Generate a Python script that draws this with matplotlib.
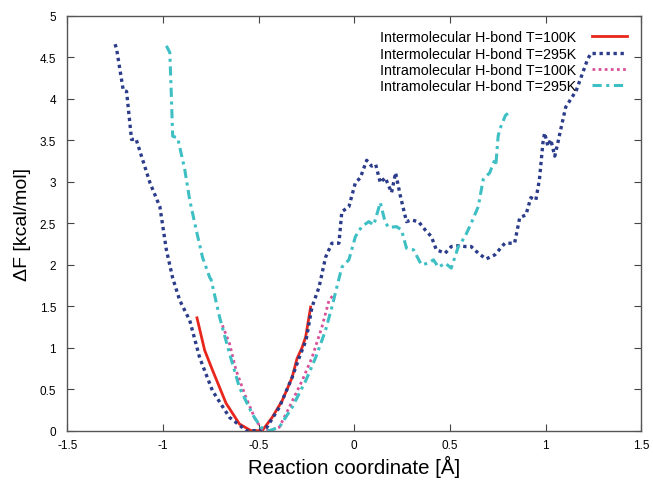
import matplotlib
matplotlib.use("Agg")
import matplotlib.pyplot as plt

plt.rcParams['font.family'] = ['Liberation Sans', 'DejaVu Sans']

# Intermolecular H-bond T=100K
inter100_x = [-0.822, -0.782, -0.741, -0.670, -0.600, -0.540, -0.481, -0.429, -0.377, -0.325, -0.299, -0.273, -0.254, -0.228]
inter100_y = [1.36, 0.97, 0.73, 0.33, 0.08, 0.0, 0.0, 0.16, 0.36, 0.64, 0.87, 1.00, 1.13, 1.49]

# Intermolecular H-bond T=295K
inter295_x = [-1.250, -1.242, -1.207, -1.190, -1.164, -1.141, -1.068, -1.016, -0.982, -0.949,
              -0.912, -0.860, -0.808, -0.741, -0.652, -0.564, -0.512, -0.460, -0.392, -0.325,
              -0.288, -0.252, -0.221, -0.184, -0.150, -0.117, -0.080, -0.065, -0.028, 0.006,
              0.032, 0.065, 0.091, 0.112, 0.136, 0.162, 0.195, 0.216, 0.240, 0.273, 0.299,
              0.336, 0.371, 0.403, 0.429, 0.475, 0.507, 0.544, 0.579, 0.611, 0.648, 0.689,
              0.735, 0.787, 0.838, 0.865, 0.897, 0.923, 0.949, 0.968, 0.986, 0.995, 1.012,
              1.027, 1.048, 1.064, 1.079, 1.105, 1.160, 1.220, 1.240]
inter295_y = [4.66, 4.60, 4.10, 4.09, 3.51, 3.52, 2.99, 2.70, 2.18, 1.84,
              1.57, 1.33, 0.88, 0.48, 0.16, 0.0, 0.0, 0.03, 0.28, 0.64,
              0.88, 1.09, 1.49, 1.73, 2.09, 2.26, 2.26, 2.64, 2.70, 2.99,
              3.05, 3.26, 3.19, 3.21, 2.99, 3.05, 2.87, 3.11, 2.84, 2.52, 2.54,
              2.52, 2.42, 2.34, 2.18, 2.14, 2.22, 2.23, 2.22, 2.22, 2.14, 2.07,
              2.12, 2.26, 2.26, 2.57, 2.60, 2.81, 2.78, 3.03, 3.47, 3.59, 3.43,
              3.51, 3.31, 3.47, 3.63, 3.90, 4.10, 4.48, 4.56]

# Intramolecular H-bond T=100K
intra100_x = [-0.689, -0.652, -0.618, -0.566, -0.514, -0.481, -0.444, -0.392, -0.340, -0.273, -0.221, -0.169, -0.132, -0.112]
intra100_y = [1.27, 1.05, 0.73, 0.40, 0.12, 0.02, 0.0, 0.04, 0.28, 0.60, 0.88, 1.25, 1.57, 1.63]

# Intramolecular H-bond T=295K
intra295_x = [-0.982, -0.964, -0.956, -0.949, -0.923, -0.886, -0.860, -0.826, -0.793, -0.756,
              -0.748, -0.704, -0.652, -0.600, -0.533, -0.488, -0.444, -0.392, -0.325, -0.254,
              -0.202, -0.150, -0.117, -0.091, -0.065, -0.028, 0.006, 0.039, 0.076, 0.102,
              0.136, 0.162, 0.180, 0.221, 0.247, 0.273, 0.310, 0.351, 0.388, 0.414, 0.440,
              0.475, 0.507, 0.544, 0.579, 0.611, 0.648, 0.674, 0.708, 0.735, 0.741, 0.752,
              0.760, 0.790, 0.820]
intra295_y = [4.64, 4.56, 4.04, 3.55, 3.53, 3.15, 2.78, 2.42, 2.09, 1.85,
              1.82, 1.37, 0.93, 0.52, 0.20, 0.04, 0.0, 0.04, 0.28, 0.60,
              0.88, 1.21, 1.49, 1.73, 1.97, 2.06, 2.34, 2.46, 2.52, 2.48,
              2.75, 2.51, 2.45, 2.46, 2.42, 2.20, 2.18, 2.00, 2.02, 2.06, 1.97,
              2.02, 1.96, 2.22, 2.34, 2.50, 2.70, 3.03, 3.11, 3.27, 3.23, 3.55,
              3.63, 3.80, 3.86]

fig = plt.figure(figsize=(6.53, 4.85), dpi=100)
ax = fig.add_axes([0.103, 0.110, 0.879, 0.855])

ax.plot(inter100_x, inter100_y, color='#e8261c', lw=2.0, label='Intermolecular H-bond T=100K')
ax.plot(inter295_x, inter295_y, color='#2b3c8a', lw=2.4, linestyle=(0, (1, 1.1)),
        label='Intermolecular H-bond T=295K')
ax.plot(intra100_x, intra100_y, color='#d9509a', lw=2.0, linestyle=(0, (1, 1.2)),
        label='Intramolecular H-bond T=100K')
ax.plot(intra295_x, intra295_y, color='#3dbfc4', lw=2.2, linestyle=(0, (3, 1.5, 1, 1.5)),
        label='Intramolecular H-bond T=295K')

ax.set_xlim(-1.5, 1.5)
ax.set_ylim(0, 5)
ax.set_xticks([-1.5, -1, -0.5, 0, 0.5, 1, 1.5])
ax.set_xticklabels(['-1.5', '-1', '-0.5', '0', '0.5', '1', '1.5'])
ax.set_yticks([0, 0.5, 1, 1.5, 2, 2.5, 3, 3.5, 4, 4.5, 5])
ax.set_yticklabels(['0', '0.5', '1', '1.5', '2', '2.5', '3', '3.5', '4', '4.5', '5'])
ax.tick_params(direction='in', top=True, right=True, length=5, width=0.8,
               labelsize=8.5, color='#444444')
ax.tick_params(axis='y', pad=8)
ax.tick_params(axis='x', pad=6)
for s in ax.spines.values():
    s.set_color('#555555')
    s.set_linewidth(1.0)

ax.set_xlabel('Reaction coordinate [Å]', fontsize=14.7, labelpad=3)
ax.set_ylabel('ΔF [kcal/mol]', fontsize=14, labelpad=6)

leg = ax.legend(loc='upper right', bbox_to_anchor=(0.975, 0.965), frameon=False,
                markerfirst=False, fontsize=10.3, handlelength=2.45, handletextpad=1.1,
                labelspacing=0.16, borderaxespad=0.0, borderpad=0.0)
for t in leg.get_texts():
    t.set_ha('right')

fig.savefig('out.png', dpi=100)
